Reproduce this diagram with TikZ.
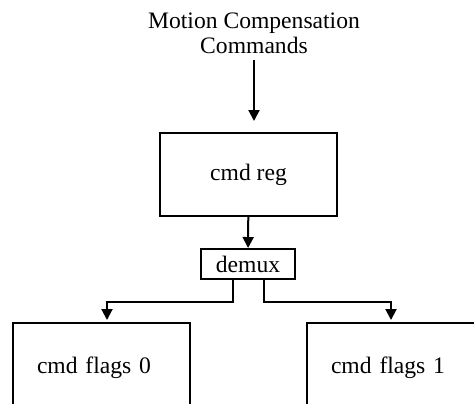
\documentclass[tikz,border=0pt]{standalone}
\usepackage{fontspec}
\setmainfont{Liberation Serif}
\usepackage{tikz}
\usetikzlibrary{arrows.meta}
\usetikzlibrary{positioning}
\tikzstyle{titre}=[align=center,inner sep=3pt]
\tikzstyle{bloc}=[rectangle,draw,line width=1pt,minimum width=88.5pt,minimum height=41.5pt]
\tikzstyle{petit}=[rectangle,draw,line width=1pt,minimum width=47pt,minimum height=15pt,inner sep=0pt]
\tikzstyle{drapeau}=[rectangle,draw,line width=1pt,minimum height=45pt,text width=64.5pt,align=left,inner xsep=12pt]
\tikzstyle{suite}=[-{Triangle[length=5.5pt,width=5.5pt]},line width=1pt]

\begin{document}
\begin{tikzpicture}[x=0.5pt,y=-0.5pt,font=\fontsize{11.8}{12.6}\selectfont]
\useasboundingbox (0,0) rectangle (474,403);
\clip (0,0) rectangle (474,403);
\node[titre] (mc) at (254,33) {Motion Compensation\\Commands};
\node[bloc] (reg) at (248.5,174.5) {cmd reg};
\node[petit] (demux) at (248,264) {demux};
\node[drapeau] (f0) at (101.5,368) {cmd flags 0};
\node[drapeau] (f1) at (395.5,368) {cmd flags 1};
%Drawing Edges
\draw[suite,shorten >=5.5pt] (mc.south) -- (mc.south |- reg.north);
\draw[suite] (reg) -- (demux);
\draw[suite,shorten >=1pt] ([xshift=-7.5pt]demux.south) -- ++(0,22) -| ([xshift=2.75pt]f0.north);
\draw[suite,shorten >=1pt] ([xshift=8pt]demux.south) -- ++(0,22) -| ([xshift=-2.25pt]f1.north);
\end{tikzpicture}
\end{document}
